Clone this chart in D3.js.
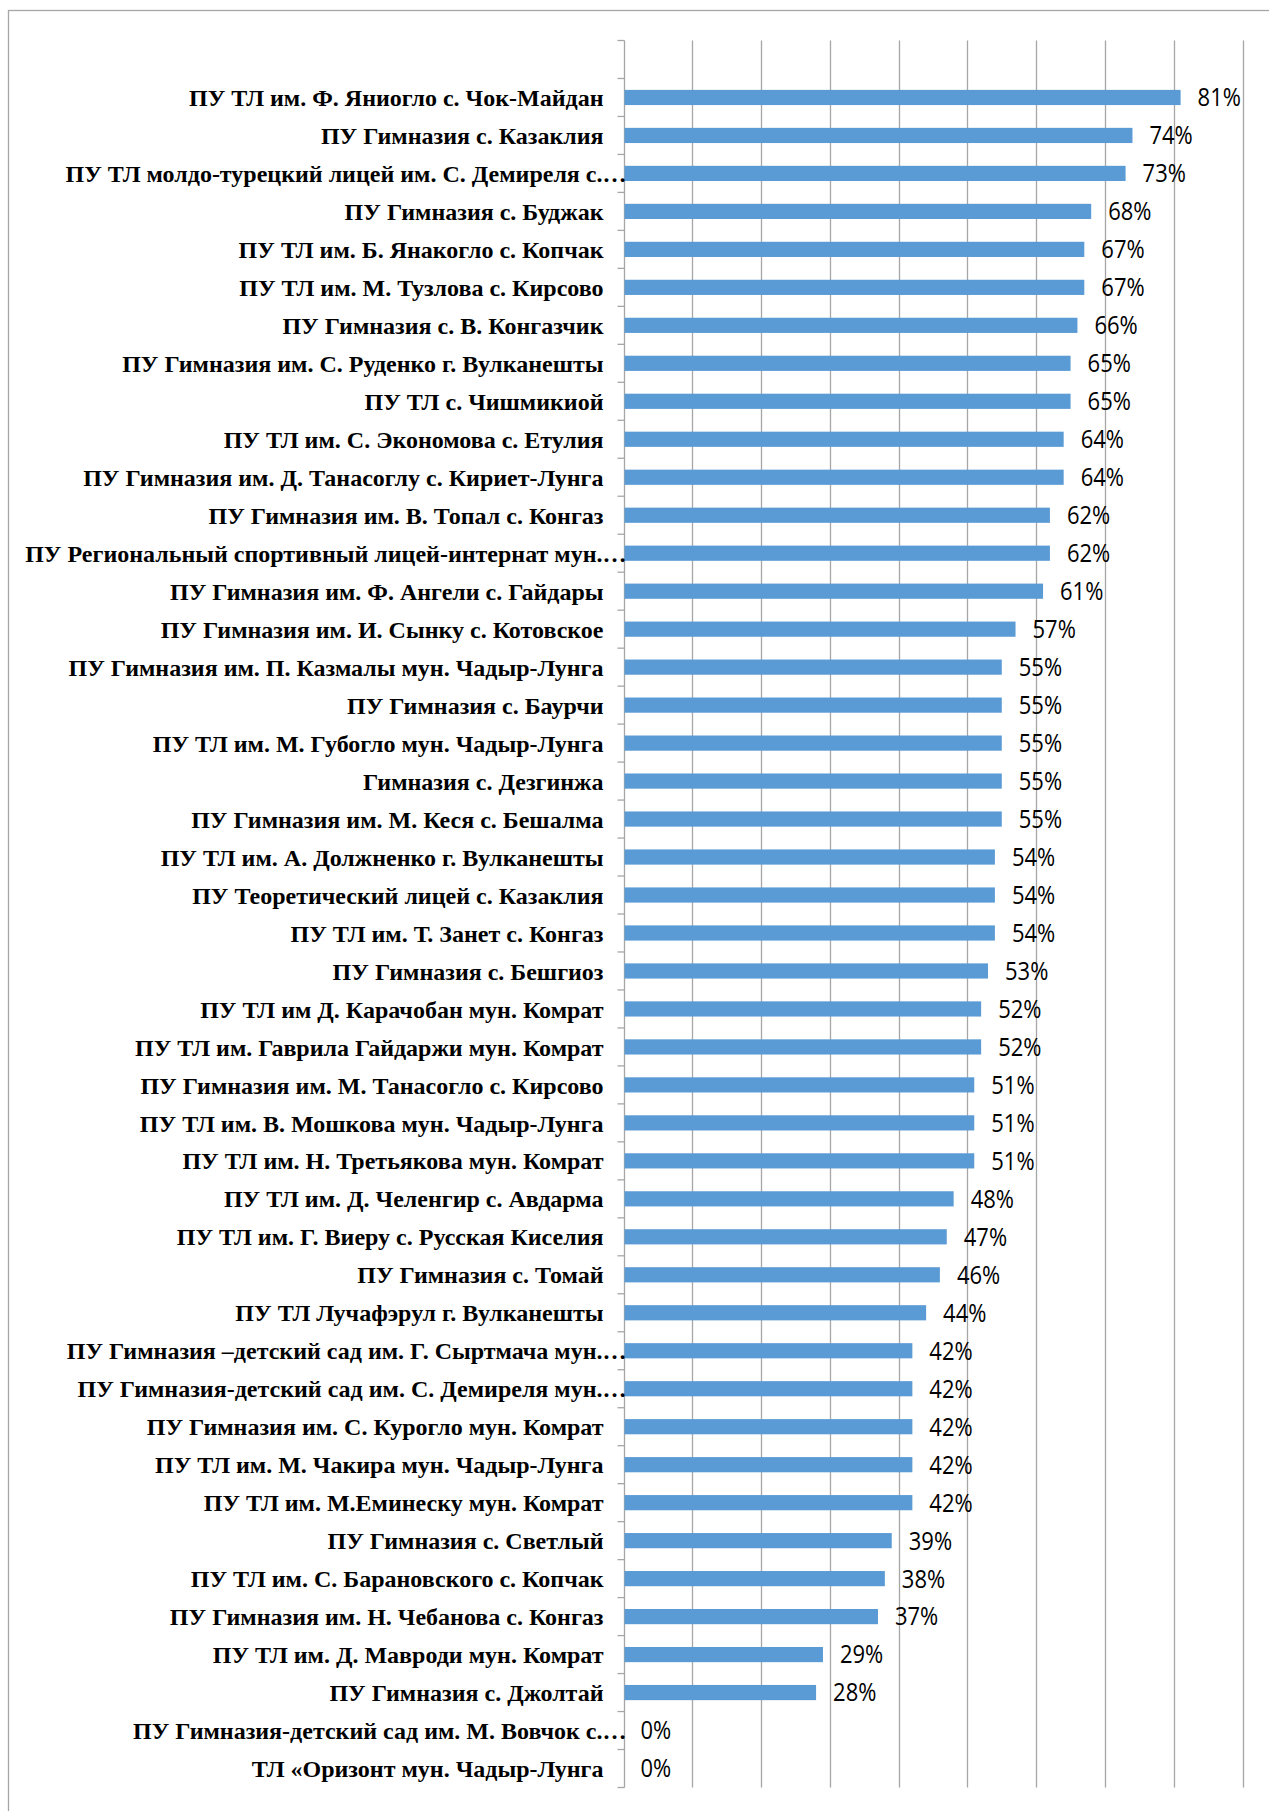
<!DOCTYPE html>
<html>
<head>
<meta charset="utf-8">
<script src="https://cdn.jsdelivr.net/npm/d3@7"></script>
<style>
  body { margin: 0; background: #fff; }
</style>
</head>
<body>
<div id="chart"></div>
<script>
// подписи школ (сверху вниз, как на рисунке)
const schools = [
  "ПУ ТЛ им. Ф. Яниогло с. Чок-Майдан",
  "ПУ Гимназия с. Казаклия",
  "ПУ ТЛ молдо-турецкий лицей им. С. Демиреля с.…",
  "ПУ Гимназия с. Буджак",
  "ПУ ТЛ им. Б. Янакогло с. Копчак",
  "ПУ ТЛ им. М. Тузлова с. Кирсово",
  "ПУ Гимназия с. В. Конгазчик",
  "ПУ Гимназия им. С. Руденко г. Вулканешты",
  "ПУ ТЛ с. Чишмикиой",
  "ПУ ТЛ им. С. Экономова с. Етулия",
  "ПУ Гимназия им. Д. Танасоглу с. Кириет-Лунга",
  "ПУ Гимназия им. В. Топал с. Конгаз",
  "ПУ Региональный спортивный лицей-интернат мун.…",
  "ПУ Гимназия им. Ф. Ангели с. Гайдары",
  "ПУ Гимназия им. И. Сынку с. Котовское",
  "ПУ Гимназия им. П. Казмалы мун. Чадыр-Лунга",
  "ПУ Гимназия с. Баурчи",
  "ПУ ТЛ им. М. Губогло мун. Чадыр-Лунга",
  "Гимназия с. Дезгинжа",
  "ПУ Гимназия им. М. Кеся с. Бешалма",
  "ПУ ТЛ им. А. Должненко г. Вулканешты",
  "ПУ Теоретический лицей с. Казаклия",
  "ПУ ТЛ им. Т. Занет с. Конгаз",
  "ПУ Гимназия с. Бешгиоз",
  "ПУ ТЛ им Д. Карачобан мун. Комрат",
  "ПУ ТЛ им. Гаврила Гайдаржи мун. Комрат",
  "ПУ Гимназия им. М. Танасогло с. Кирсово",
  "ПУ ТЛ им. В. Мошкова мун. Чадыр-Лунга",
  "ПУ ТЛ им. Н. Третьякова мун. Комрат",
  "ПУ ТЛ им. Д. Челенгир с. Авдарма",
  "ПУ ТЛ им. Г. Виеру с. Русская Киселия",
  "ПУ Гимназия с. Томай",
  "ПУ ТЛ Лучафэрул г. Вулканешты",
  "ПУ Гимназия –детский сад им. Г. Сыртмача мун.…",
  "ПУ Гимназия-детский сад им. С. Демиреля мун.…",
  "ПУ Гимназия им. С. Курогло мун. Комрат",
  "ПУ ТЛ им. М. Чакира мун. Чадыр-Лунга",
  "ПУ ТЛ им. М.Еминеску мун. Комрат",
  "ПУ Гимназия с. Светлый",
  "ПУ ТЛ им. С. Барановского с. Копчак",
  "ПУ Гимназия им. Н. Чебанова с. Конгаз",
  "ПУ ТЛ им. Д. Мавроди мун. Комрат",
  "ПУ Гимназия с. Джолтай",
  "ПУ Гимназия-детский сад им. М. Вовчок с.…",
  "ТЛ «Оризонт мун. Чадыр-Лунга"
];

// проценты
const values = [81, 74, 73, 68, 67, 67, 66, 65, 65, 64, 64, 62, 62, 61, 57,
  55, 55, 55, 55, 55, 54, 54, 54, 53, 52, 52, 51, 51, 51, 48, 47, 46, 44,
  42, 42, 42, 42, 42, 39, 38, 37, 29, 28, 0, 0];

// сетка по оси X
const xTicks = [0, 10, 20, 30, 40, 50, 60, 70, 80, 90];

const width = 1269;
const height = 1811;
const margin = { top: 40.5, right: 26.5, bottom: 23.5, left: 623.5 };

const svg = d3.select("#chart")
  .append("svg")
  .attr("width", width)
  .attr("height", height)
  .style("font-family", "'Liberation Serif', 'Times New Roman', serif");

// рамка
svg.append("rect")
  .attr("x", 8.5)
  .attr("y", 10.5)
  .attr("width", width + 20)
  .attr("height", height + 20)
  .attr("fill", "none")
  .attr("stroke", "#a6a6a6")
  .attr("stroke-width", 1.3);

// пустая верхняя строка, как в исходнике
const bands = [""].concat(schools);

const x = d3.scaleLinear()
  .domain([0, 90])
  .range([margin.left, width - margin.right]);

const y = d3.scaleBand()
  .domain(bands)
  .range([margin.top, height - margin.bottom])
  .paddingInner(0)
  .paddingOuter(0);

const barH = y.bandwidth() * 0.4;

// вертикальные линии сетки
svg.append("g")
  .selectAll("line")
  .data(xTicks.slice(1))
  .enter()
  .append("line")
  .attr("x1", d => Math.round(x(d)) + 0.5)
  .attr("x2", d => Math.round(x(d)) + 0.5)
  .attr("y1", margin.top)
  .attr("y2", height - margin.bottom)
  .style("stroke", "#a6a6a6")
  .style("stroke-width", 1.3);

// ось категорий
const axisX = Math.round(x(0)) + 0.5;
svg.append("line")
  .attr("x1", axisX).attr("x2", axisX)
  .attr("y1", margin.top).attr("y2", height - margin.bottom)
  .style("stroke", "#a6a6a6")
  .style("stroke-width", 1.3);

const tickYs = bands.map(b => y(b)).concat([y.range()[1]]);
svg.append("g")
  .selectAll("line")
  .data(tickYs)
  .enter()
  .append("line")
  .attr("x1", axisX - 7)
  .attr("x2", axisX)
  .attr("y1", d => d)
  .attr("y2", d => d)
  .style("stroke", "#a6a6a6")
  .style("stroke-width", 1.3);

const rows = schools.map((s, i) => ({ name: s, value: values[i] }));

// столбики
svg.append("g")
  .selectAll("rect")
  .data(rows)
  .enter()
  .append("rect")
  .attr("x", x(0) + 1)
  .attr("y", d => y(d.name) + (y.bandwidth() - barH) / 2)
  .attr("width", d => Math.max(0, x(d.value) - x(0) - 1))
  .attr("height", barH)
  .style("fill", "#5b9bd5");

// подписи значений
svg.append("g")
  .selectAll("text")
  .data(rows)
  .enter()
  .append("text")
  .attr("transform", d => `translate(${x(d.value) + 17},${y(d.name) + y.bandwidth() / 2}) scale(1,1.12)`)
  .attr("dy", "0.36em")
  .style("font-family", "'Open Sans', sans-serif")
  .style("font-size", "22px")
  .style("fill", "#000")
  .text(d => d.value + "%");

// подписи категорий
svg.append("g")
  .selectAll("text")
  .data(rows)
  .enter()
  .append("text")
  .attr("x", d => d.name.endsWith("…") ? axisX + 2 : axisX - 21)
  .attr("y", d => y(d.name) + y.bandwidth() / 2)
  .attr("dy", "0.36em")
  .attr("text-anchor", "end")
  .style("font-size", "24px")
  .style("font-weight", "bold")
  .style("fill", "#000")
  .text(d => d.name);
</script>
</body>
</html>
